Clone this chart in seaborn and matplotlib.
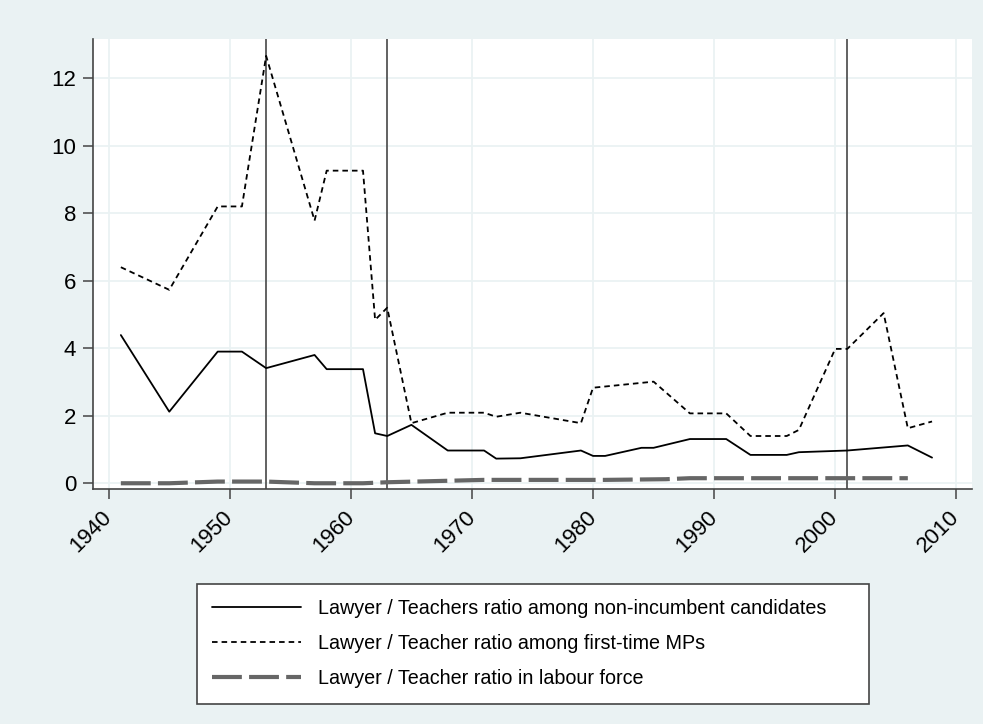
import matplotlib
matplotlib.use("Agg")
import matplotlib.pyplot as plt
import seaborn as sns
import pandas as pd

# Election years and ratios
years_cand = [1941, 1945, 1949, 1951, 1953, 1957, 1958, 1961, 1962, 1963, 1965, 1968,
              1971, 1972, 1974, 1979, 1980, 1981, 1984, 1985, 1988, 1991, 1993, 1996,
              1997, 2001, 2006, 2008]
ratio_cand = [4.39, 2.12, 3.90, 3.90, 3.41, 3.80, 3.38, 3.38, 1.48, 1.40, 1.73, 0.97,
              0.97, 0.73, 0.74, 0.97, 0.81, 0.81, 1.05, 1.05, 1.31, 1.31, 0.84, 0.84,
              0.92, 0.97, 1.12, 0.76]

years_mps = [1941, 1945, 1949, 1951, 1953, 1957, 1958, 1961, 1962, 1963, 1965, 1968,
             1971, 1972, 1974, 1979, 1980, 1985, 1988, 1991, 1993, 1996, 1997, 2000,
             2001, 2004, 2006, 2008]
ratio_mps = [6.40, 5.73, 8.20, 8.20, 12.66, 7.78, 9.26, 9.26, 4.84, 5.20, 1.78, 2.09,
             2.09, 1.97, 2.09, 1.78, 2.83, 3.01, 2.07, 2.07, 1.40, 1.40, 1.58, 3.98,
             3.98, 5.04, 1.63, 1.83]

years_lab = [1941, 1945, 1949, 1951, 1953, 1957, 1961, 1963, 1971, 1981, 1986, 1988, 2006]
ratio_lab = [0.00, 0.00, 0.05, 0.05, 0.05, 0.00, 0.00, 0.03, 0.10, 0.10, 0.12, 0.15, 0.15]

marker_years = [1953, 1963, 2001]

labels = ["Lawyer / Teachers ratio among non-incumbent candidates",
          "Lawyer / Teacher ratio among first-time MPs",
          "Lawyer / Teacher ratio in labour force"]

sns.set_style("white")
plt.rcParams["font.family"] = ["Liberation Sans", "DejaVu Sans"]
plt.rcParams["lines.scale_dashes"] = False
plt.rcParams["text.color"] = "black"
plt.rcParams["xtick.color"] = "black"
plt.rcParams["ytick.color"] = "black"

BG = "#eaf2f3"
fig = plt.figure(figsize=(9.83, 7.24), dpi=100, facecolor=BG)
ax = fig.add_axes([93 / 983, 1 - 489 / 724, (972 - 93) / 983, (489 - 39) / 724])
ax.set_facecolor("white")

df_c = pd.DataFrame({"year": years_cand, "ratio": ratio_cand})
df_m = pd.DataFrame({"year": years_mps, "ratio": ratio_mps})
df_l = pd.DataFrame({"year": years_lab, "ratio": ratio_lab})

sns.lineplot(data=df_c, x="year", y="ratio", ax=ax, color="black", lw=1.3,
             label=labels[0], zorder=4)
sns.lineplot(data=df_m, x="year", y="ratio", ax=ax, color="black", lw=1.3,
             label=labels[1], zorder=4)
sns.lineplot(data=df_l, x="year", y="ratio", ax=ax, color="#666666", lw=3.0,
             label=labels[2], zorder=3)
lines = ax.get_lines()
lines[1].set_dashes((4.0, 2.9))
lines[2].set_dashes((21.5, 5.2))

for yr in marker_years:
    ax.axvline(yr, color="#555555", lw=1.3, zorder=2)

ax.set_xlim(1938.7, 2011.3)
ax.set_ylim(-0.17, 13.16)
ax.set_xticks(range(1940, 2011, 10))
ax.set_yticks(range(0, 13, 2))
ax.grid(True, color=BG, lw=1.3, zorder=0)
ax.set_axisbelow(True)
ax.set_xlabel("")
ax.set_ylabel("")

for side in ["top", "right"]:
    ax.spines[side].set_visible(False)
for side in ["left", "bottom"]:
    ax.spines[side].set_color("#444444")
    ax.spines[side].set_linewidth(1.2)

ax.tick_params(axis="both", direction="out", length=7, width=1.1, color="#444444",
               labelsize=16, pad=5, bottom=True, left=True, labelcolor="black")
ax.tick_params(axis="x", pad=11)
plt.setp(ax.get_xticklabels(), rotation=45, ha="right", va="center",
         rotation_mode="anchor")

ax.get_legend().remove()
handles = lines[:3]
leg = fig.legend(handles, labels, loc="upper left",
                 bbox_to_anchor=(196.5 / 983, 1 - 583.5 / 724, (868.5 - 196.5) / 983, 0),
                 mode="expand", borderaxespad=0, fontsize=14.2, frameon=True,
                 fancybox=False, edgecolor="#444444", facecolor="white",
                 framealpha=1, handlelength=4.5, handletextpad=0.85,
                 labelspacing=0.80, borderpad=0.8)
leg.get_frame().set_linewidth(1.2)

fig.savefig("out.png", dpi=100, facecolor=BG)
